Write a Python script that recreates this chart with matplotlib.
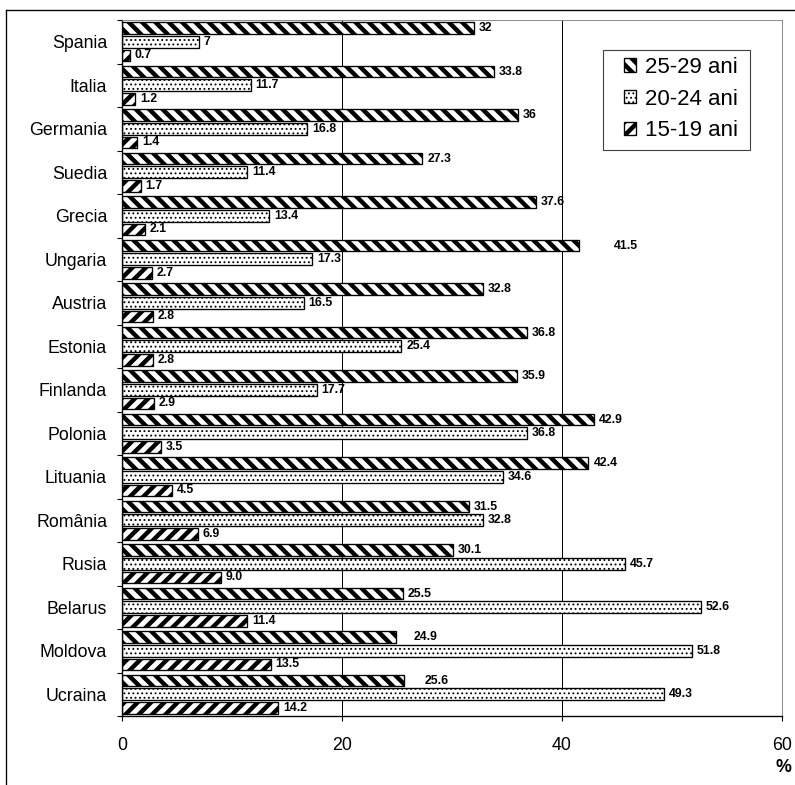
import numpy as np
import matplotlib.pyplot as plt
from matplotlib.lines import Line2D
from matplotlib.patches import Rectangle

plt.rcParams['font.family'] = ['Liberation Sans', 'DejaVu Sans']
plt.rcParams['hatch.linewidth'] = 4.0

countries = ['Spania', 'Italia', 'Germania', 'Suedia', 'Grecia', 'Ungaria', 'Austria',
             'Estonia', 'Finlanda', 'Polonia', 'Lituania', 'România', 'Rusia',
             'Belarus', 'Moldova', 'Ucraina']
ani_25_29 = [32, 33.8, 36, 27.3, 37.6, 41.5, 32.8, 36.8, 35.9, 42.9, 42.4, 31.5, 30.1,
             25.5, 24.9, 25.6]
ani_20_24 = [7, 11.7, 16.8, 11.4, 13.4, 17.3, 16.5, 25.4, 17.7, 36.8, 34.6, 32.8, 45.7,
             52.6, 51.8, 49.3]
ani_15_19 = [0.7, 1.2, 1.4, 1.7, 2.1, 2.7, 2.8, 2.8, 2.9, 3.5, 4.5, 6.9, 9.0,
             11.4, 13.5, 14.2]

# labels moved by hand in the original (25-29 series), extra offset in points
nudge_25_29 = {5: 27, 14: 11.5, 15: 14}

fig = plt.figure(figsize=(795 / 80, 785 / 80), dpi=80)
ax = fig.add_axes([122 / 795, 69 / 785, 660 / 795, 696 / 785])

y = np.arange(len(countries))
series = [
    (ani_25_29, '25-29 ani', '\\\\', 4.0, -0.315, '{:g}'),
    (ani_20_24, '20-24 ani', '...', 1.0, 0.0, '{:g}'),
    (ani_15_19, '15-19 ani', '//', 4.0, 0.315, '{:.1f}'),
]
hatch_lw = {}

for vals, lab, hatch, hlw, off, fmt in series:
    hatch_lw[lab] = hlw
    bars = ax.barh(y + off, vals, height=0.27, color='white', edgecolor='black',
                   linewidth=1.2, hatch=hatch, label=lab, zorder=2)
    for p in bars:
        if hasattr(p, 'set_hatch_linewidth'):
            p.set_hatch_linewidth(hlw)
    for i, v in enumerate(vals):
        extra = nudge_25_29.get(i, 0) if lab == '25-29 ani' else 0
        ax.annotate(fmt.format(v), (v, y[i] + off), xytext=(4.5 + extra, 0),
                    textcoords='offset points', va='center', ha='left',
                    fontsize=11, fontweight='bold')

ax.set_xlim(0, 60)
ax.set_ylim(15.5, -0.5)
ax.set_xticks([0, 20, 40, 60])
ax.tick_params(axis='x', length=4.5, width=1, pad=14, labelsize=16)
ax.set_yticks(y)
ax.set_yticklabels(countries)
ax.tick_params(axis='y', which='major', length=0, pad=13.5, labelsize=16)
ax.set_yticks(np.arange(-0.5, 16, 1), minor=True)
ax.tick_params(axis='y', which='minor', length=4.5, width=1, direction='out')

ax.xaxis.grid(True, color='black', linewidth=0.9)
ax.set_axisbelow(True)
for s in ['top', 'right']:
    ax.spines[s].set_color('#808080')
for s in ['left', 'bottom']:
    ax.spines[s].set_linewidth(1.2)

leg = ax.legend(loc='upper left', bbox_to_anchor=(0.76, 0.947), borderaxespad=0,
                fontsize=20, frameon=False,
                handlelength=0.55, handleheight=0.55, handletextpad=0.4,
                labelspacing=0.48, borderpad=0.0)
for h, t in zip(leg.legend_handles, leg.get_texts()):
    if hasattr(h, 'set_hatch_linewidth'):
        h.set_hatch_linewidth(hatch_lw[t.get_text()])

# legend box drawn by hand (wider padding left/right than top/bottom)
fig.add_artist(Rectangle((603 / 795, 1 - 150 / 785), 147 / 795, 100 / 785,
                         transform=fig.transFigure, facecolor='none',
                         edgecolor='#404040', linewidth=1.0))

fig.text(783 / 795, 1 - 768 / 785, '%', ha='center', va='center', fontsize=16,
         fontweight='bold')

# outer frame of the original chart object (left and top edges visible)
fig.add_artist(Line2D([6 / 795, 6 / 795], [0, 1 - 10 / 785], transform=fig.transFigure,
                      color='black', linewidth=1.2))
fig.add_artist(Line2D([6 / 795, 1], [1 - 10 / 785, 1 - 10 / 785], transform=fig.transFigure,
                      color='black', linewidth=1.2))

fig.savefig('out.png', dpi=80)
